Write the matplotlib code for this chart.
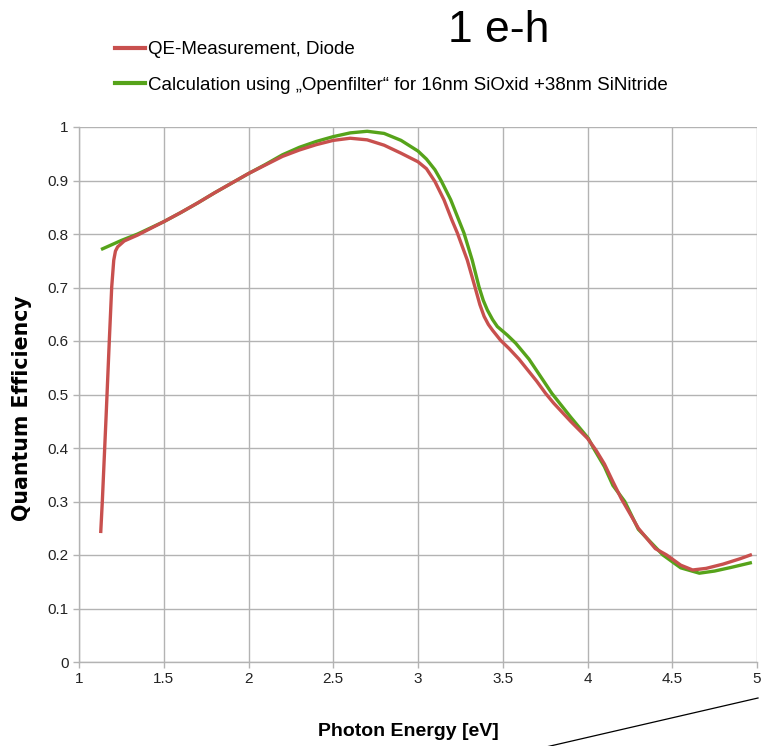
import matplotlib
matplotlib.use('Agg')
import matplotlib.pyplot as plt
from matplotlib.lines import Line2D

# measured QE of the diode
meas_ev = [1.128, 1.138, 1.16, 1.179, 1.193, 1.205, 1.215, 1.228, 1.267, 1.346, 1.5,
           1.6, 1.7, 1.8, 1.9, 2.0, 2.1, 2.2, 2.3, 2.4, 2.5, 2.6, 2.7, 2.8,
           2.9, 3.0, 3.05, 3.1, 3.153, 3.2, 3.232, 3.291, 3.336, 3.365, 3.39, 3.415,
           3.44, 3.488, 3.537, 3.596, 3.7, 3.753, 3.8, 3.9, 4.0, 4.05, 4.1, 4.15, 4.2,
           4.3, 4.4, 4.467, 4.55, 4.62, 4.7, 4.8, 4.9, 4.97]
meas_qe = [0.241, 0.303, 0.46, 0.602, 0.701, 0.751, 0.768, 0.776, 0.787, 0.798, 0.823,
           0.84, 0.858, 0.877, 0.895, 0.913, 0.929, 0.945, 0.957, 0.967, 0.975, 0.979, 0.976, 0.966,
           0.951, 0.935, 0.922, 0.898, 0.864, 0.826, 0.802, 0.751, 0.701, 0.668, 0.646, 0.631,
           0.62, 0.601, 0.586, 0.566, 0.525, 0.502, 0.484, 0.45, 0.418, 0.396, 0.37, 0.337, 0.305,
           0.25, 0.212, 0.2, 0.181, 0.172, 0.175, 0.183, 0.193, 0.201]

# Openfilter calculation
calc_ev = [1.13, 1.25, 1.346, 1.5, 1.6, 1.7, 1.8, 1.9, 2.0, 2.1, 2.2, 2.3, 2.4,
           2.5, 2.6, 2.7, 2.8, 2.9, 3.0, 3.05, 3.1, 3.136, 3.193, 3.271, 3.32, 3.36,
           3.385, 3.409, 3.44, 3.468, 3.527, 3.576, 3.655, 3.79, 3.9, 4.005, 4.035, 4.1,
           4.15, 4.22, 4.3, 4.445, 4.55, 4.66, 4.75, 4.85, 4.97]
calc_qe = [0.771, 0.788, 0.8, 0.823, 0.84, 0.858, 0.877, 0.895, 0.913, 0.93, 0.948, 0.962, 0.973,
           0.982, 0.989, 0.992, 0.988, 0.975, 0.955, 0.94, 0.92, 0.9, 0.864, 0.802, 0.751, 0.701,
           0.676, 0.658, 0.64, 0.627, 0.611, 0.596, 0.566, 0.502, 0.458, 0.418, 0.4, 0.365,
           0.33, 0.3, 0.248, 0.2, 0.176, 0.166, 0.17, 0.177, 0.186]

x_ticks = [1, 1.5, 2, 2.5, 3, 3.5, 4, 4.5, 5]
y_ticks = [0, 0.1, 0.2, 0.3, 0.4, 0.5, 0.6, 0.7, 0.8, 0.9, 1]

plt.rcParams['font.family'] = ['Liberation Sans', 'DejaVu Sans']

W, H = 761, 746
fig = plt.figure(figsize=(W / 100, H / 100), dpi=100)
ax = fig.add_axes([79 / W, 1 - 662 / H, (757 - 79) / W, (662 - 127) / H])

red = '#c8504e'
green = '#56a31a'
ax.plot(calc_ev, calc_qe, color=green, lw=2.4, solid_capstyle='butt', zorder=3)
ax.plot(meas_ev, meas_qe, color=red, lw=2.4, solid_capstyle='butt', zorder=4)

ax.set_xlim(1, 5)
ax.set_ylim(0, 1)
ax.set_xticks(x_ticks)
ax.set_yticks(y_ticks)
ax.set_xticklabels([f'{v:g}' for v in x_ticks])
ax.set_yticklabels([f'{v:g}' for v in y_ticks])
ax.grid(True, color='#b3b3b3', lw=1)
ax.set_axisbelow(True)
for s in ['top', 'right']:
    ax.spines[s].set_visible(False)
for s in ['left', 'bottom']:
    ax.spines[s].set_color('#b3b3b3')
    ax.spines[s].set_linewidth(1)
ax.tick_params(length=4, width=1, color='#b3b3b3', labelsize=11, labelcolor='#222222')

fig.text(408 / W, 1 - 731 / H, 'Photon Energy [eV]', fontsize=14, fontweight='bold',
         ha='center', va='center')
fig.text(22 / W, 1 - 408 / H, 'Quantum Efficiency', fontsize=14.8, fontweight='bold',
         family=['DejaVu Sans'], rotation=90, ha='center', va='center')

handles = [Line2D([], [], color=red, lw=3),
           Line2D([], [], color=green, lw=3)]
fig.legend(handles, ['QE-Measurement, Diode',
                     'Calculation using \u201eOpenfilter\u201c for 16nm SiOxid +38nm SiNitride'],
           loc='upper left', bbox_to_anchor=(115 / W, 1 - 41 / H), frameon=False,
           fontsize=13.5, handlelength=1.6, handletextpad=0.15, labelspacing=1.0,
           borderaxespad=0, borderpad=0)

fig.text(499 / W, 1 - 31 / H, '1 e-h', fontsize=32, ha='center', va='center')

fig.add_artist(Line2D([758 / W, 520 / W], [1 - 698 / H, 1 - 753 / H],
                      transform=fig.transFigure, color='black', lw=0.9))

fig.savefig('out.png', dpi=100)
